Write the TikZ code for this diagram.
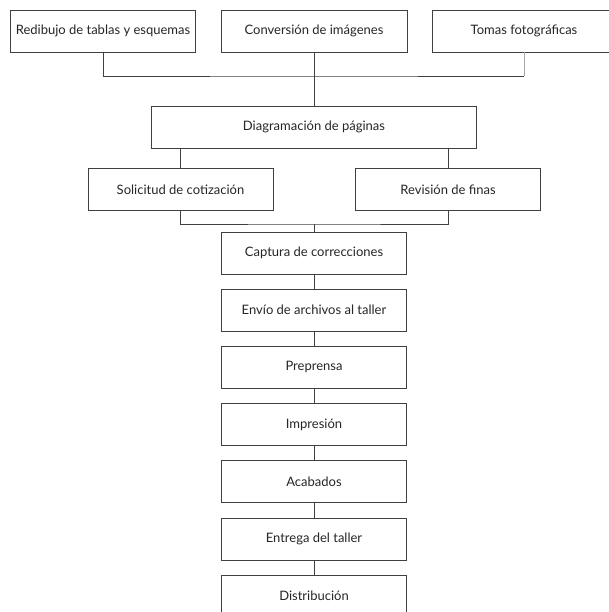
\documentclass[tikz,border=0pt]{standalone}
\usepackage{fontspec}
\setmainfont{Lato}
\usetikzlibrary{calc}

\tikzset{
	paso/.style={draw=black!75, line width=0.7pt, fill=white, minimum width=185pt, minimum height=42pt, inner sep=0pt, text=black!85, font=\fontsize{13}{15}\selectfont},
	liga/.style={draw=black!75, line width=0.7pt}
}

\begin{document}
\begin{tikzpicture}[x=1pt, y=-1pt]
			%%%%% START %%%%%
			
			\useasboundingbox (0, 0) rectangle (609, 612);
			\clip (0, 0) rectangle (609, 612);
			
			\node[paso] (redibujo) at (103, 31) {Redibujo de tablas y esquemas};
			\node[paso, minimum width=186pt] (conversion) at (314, 31) {Conversión de imágenes};
			\node[paso, minimum width=184pt] (tomas) at (524, 31) {Tomas fotográficas};
			
			\node[paso, minimum width=325pt] (diagramacion) at (314, 127) {Diagramación de páginas};
			
			\node[paso] (solicitud) at (180.5, 189.5) {Solicitud de cotización};
			\node[paso] (revision) at (448, 189.5) {Revisión de finas};
			
			\foreach \nombre/\texto [count=\i] in {captura/Captura de correcciones, envio/Envío de archivos al taller, preprensa/Preprensa, impresion/Impresión, acabados/Acabados, entrega/Entrega del taller, distribucion/Distribución}
				\node[paso] (\nombre) at (314, {253 + (\i-1)*57.2}) {\texto};
			
			\coordinate (barra1) at (314, 76);
			\coordinate (barra2) at (314, 224);
			
			\draw[liga] (redibujo.south) |- (barra1) -- (barra1 -| tomas.south);
			\draw[liga, draw=black!35] (tomas.south) -- (barra1 -| tomas.south);
			\draw[liga] (conversion.south) -- (diagramacion.north);
			
			\draw[liga] (solicitud.north) -- (solicitud.north |- diagramacion.south);
			\draw[liga] (revision.north) -- (revision.north |- diagramacion.south);
			
			\draw[liga] (solicitud.south) |- (barra2) -| (revision.south);
			\draw[liga] (barra2) -- (captura.north);
			
			\draw[liga] (captura.south) -- (envio.north);
			\draw[liga] (envio.south) -- (preprensa.north);
			\draw[liga] (preprensa.south) -- (impresion.north);
			\draw[liga] (impresion.south) -- (acabados.north);
			\draw[liga] (acabados.south) -- (entrega.north);
			\draw[liga] (entrega.south) -- (distribucion.north);
			
			%%%%% END %%%%%
\end{tikzpicture}
\end{document}
